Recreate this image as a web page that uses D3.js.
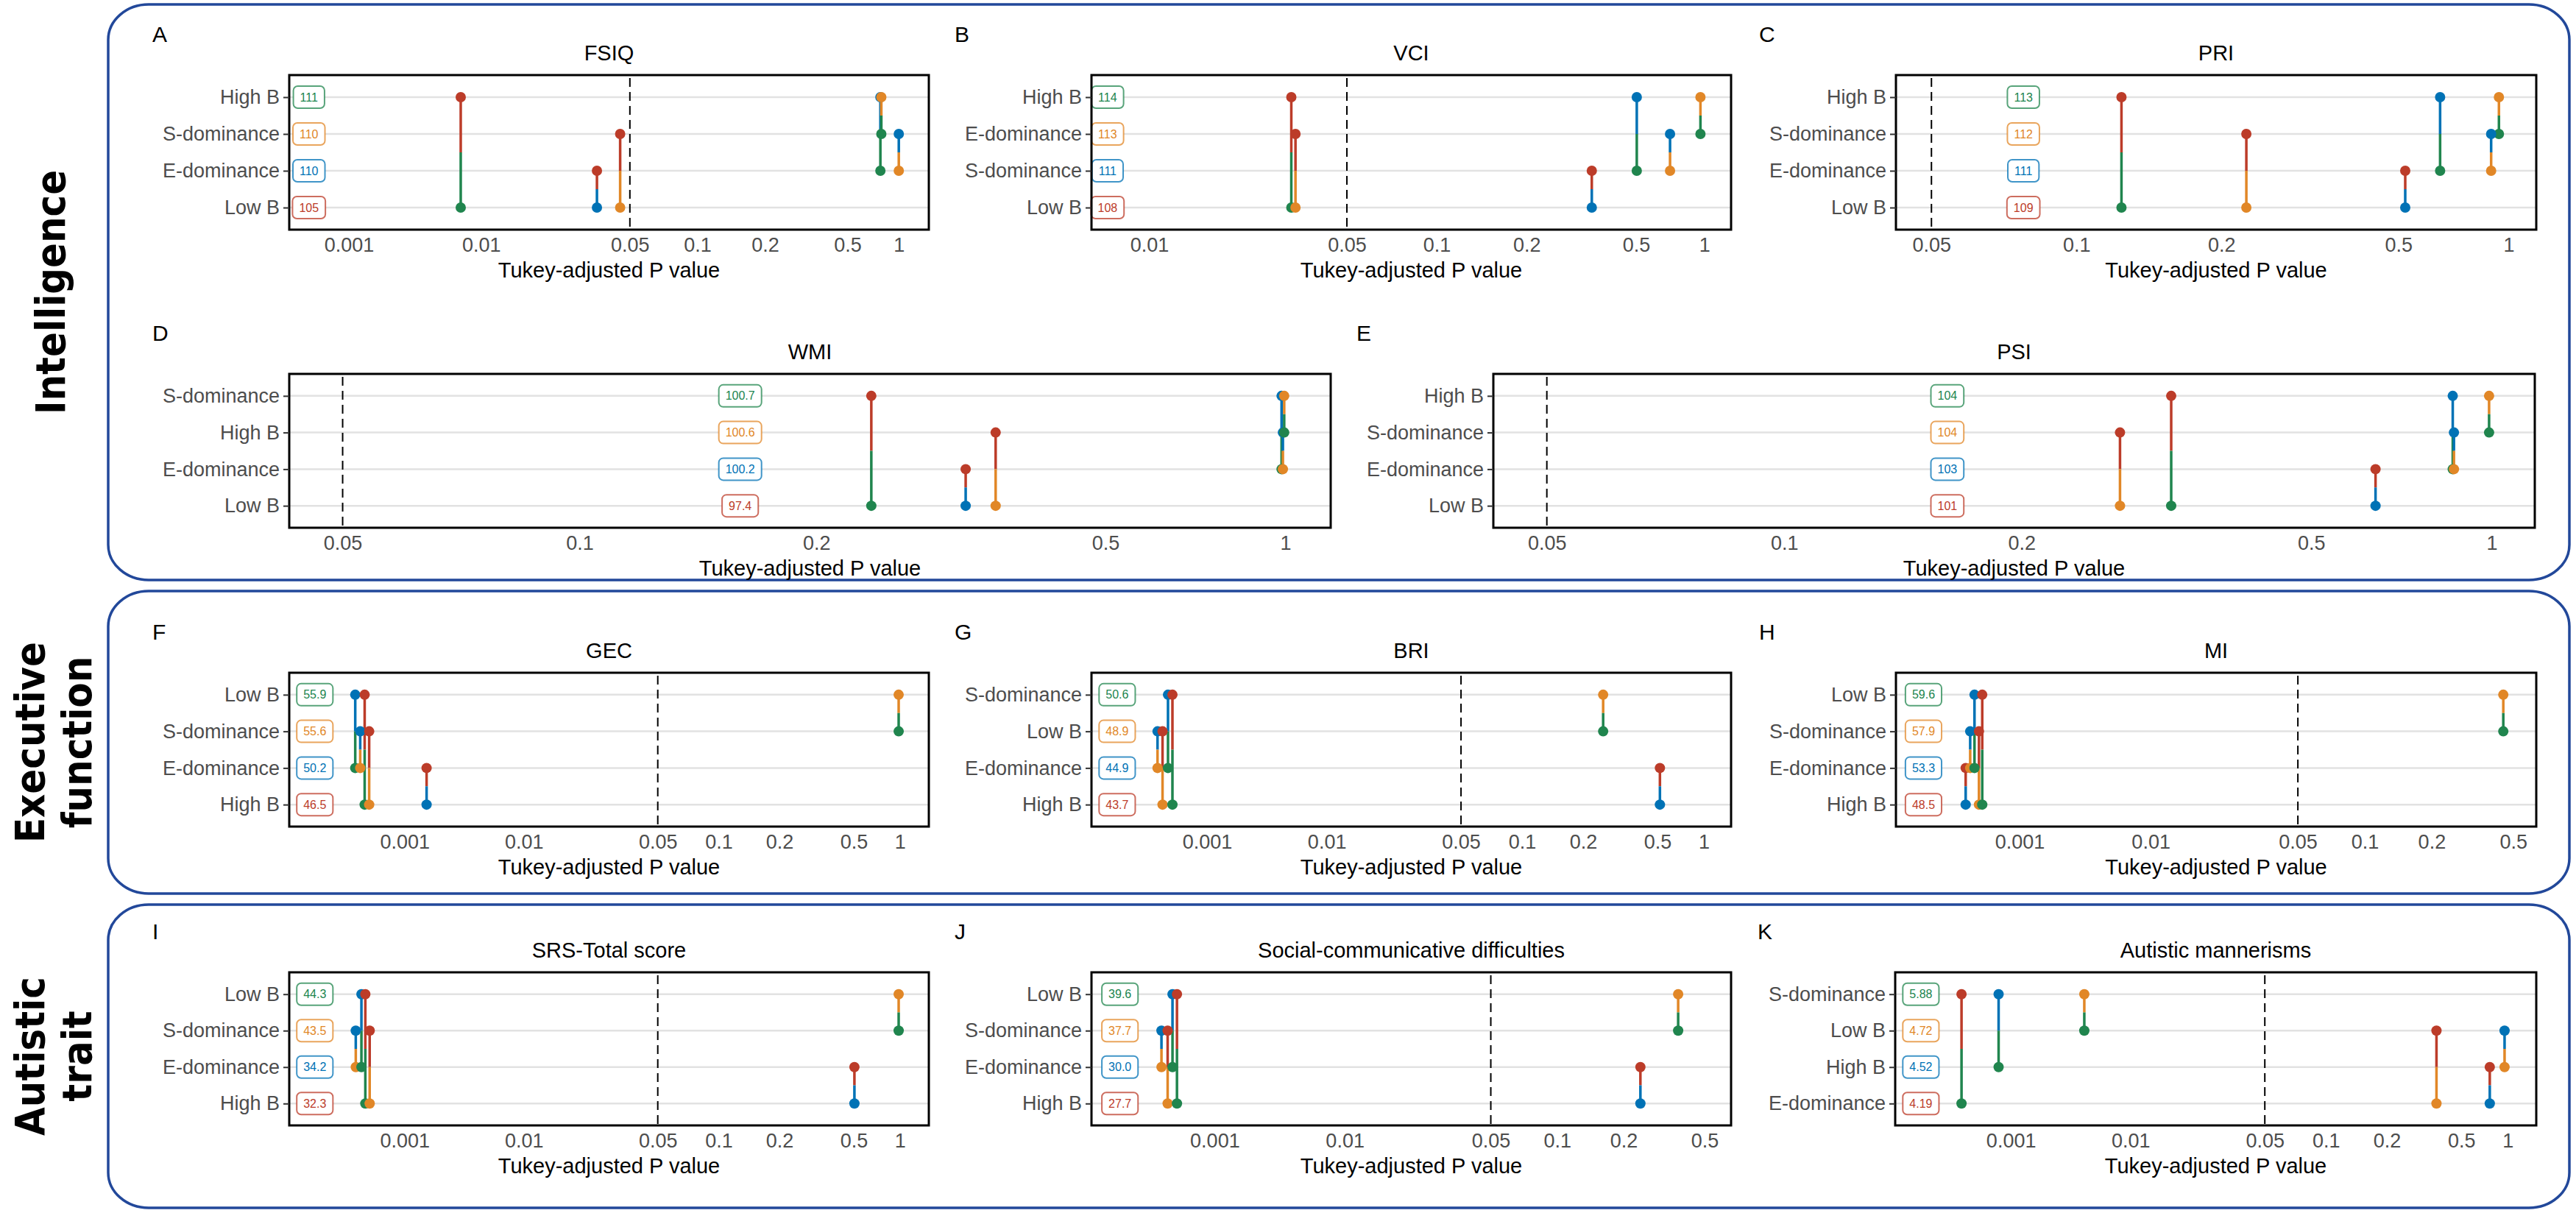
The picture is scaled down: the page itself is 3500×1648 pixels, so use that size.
<!DOCTYPE html>
<html>
<head>
<meta charset="utf-8">
<script src="https://cdn.jsdelivr.net/npm/d3@7"></script>
<style>
  body { margin: 0; background: #fff; }
  svg text { font-family: "Liberation Sans", Arial, sans-serif; }
</style>
</head>
<body>
<svg id="fig" width="3500" height="1648"></svg>
<script>
// ---- values ----
const panelLetters = ['A', 'B', 'C', 'D', 'E', 'F', 'G', 'H', 'I', 'J', 'K'];
const panelTitles = ['FSIQ', 'VCI', 'PRI', 'WMI', 'PSI', 'GEC', 'BRI', 'MI',
    'SRS-Total score', 'Social-communicative difficulties', 'Autistic mannerisms'];

// groups per panel, top row first (sorted by mean score)
const groupRows = [
    ['High B', 'S-dominance', 'E-dominance', 'Low B'],
    ['High B', 'E-dominance', 'S-dominance', 'Low B'],
    ['High B', 'S-dominance', 'E-dominance', 'Low B'],
    ['S-dominance', 'High B', 'E-dominance', 'Low B'],
    ['High B', 'S-dominance', 'E-dominance', 'Low B'],
    ['Low B', 'S-dominance', 'E-dominance', 'High B'],
    ['S-dominance', 'Low B', 'E-dominance', 'High B'],
    ['Low B', 'S-dominance', 'E-dominance', 'High B'],
    ['Low B', 'S-dominance', 'E-dominance', 'High B'],
    ['Low B', 'S-dominance', 'E-dominance', 'High B'],
    ['S-dominance', 'Low B', 'High B', 'E-dominance']
];

// group means shown in the boxes, same order as groupRows
const groupMeans = [
    ['111', '110', '110', '105'],
    ['114', '113', '111', '108'],
    ['113', '112', '111', '109'],
    ['100.7', '100.6', '100.2', '97.4'],
    ['104', '104', '103', '101'],
    ['55.9', '55.6', '50.2', '46.5'],
    ['50.6', '48.9', '44.9', '43.7'],
    ['59.6', '57.9', '53.3', '48.5'],
    ['44.3', '43.5', '34.2', '32.3'],
    ['39.6', '37.7', '30.0', '27.7'],
    ['5.88', '4.72', '4.52', '4.19']
];

// pairwise Tukey-adjusted p values: [group 1, group 2, p]
const pairP = [
    [['High B', 'Low B', 0.0070], ['S-dominance', 'Low B', 0.045], ['E-dominance', 'Low B', 0.035],
     ['High B', 'E-dominance', 0.78], ['High B', 'S-dominance', 0.79], ['S-dominance', 'E-dominance', 1.0]],
    [['High B', 'Low B', 0.0318], ['E-dominance', 'Low B', 0.0329], ['S-dominance', 'Low B', 0.345],
     ['High B', 'S-dominance', 0.503], ['E-dominance', 'S-dominance', 0.705], ['High B', 'E-dominance', 0.96]],
    [['High B', 'Low B', 0.124], ['S-dominance', 'Low B', 0.2275], ['E-dominance', 'Low B', 0.522],
     ['High B', 'E-dominance', 0.65], ['High B', 'S-dominance', 0.941], ['S-dominance', 'E-dominance', 0.896]],
    [['S-dominance', 'Low B', 0.238], ['E-dominance', 'Low B', 0.321], ['High B', 'Low B', 0.353],
     ['S-dominance', 'E-dominance', 0.985], ['High B', 'E-dominance', 0.99], ['S-dominance', 'High B', 0.995]],
    [['S-dominance', 'Low B', 0.273], ['High B', 'Low B', 0.321], ['E-dominance', 'Low B', 0.64],
     ['High B', 'E-dominance', 0.861], ['S-dominance', 'E-dominance', 0.865], ['High B', 'S-dominance', 0.99]],
    [['Low B', 'E-dominance', 0.000386], ['S-dominance', 'E-dominance', 0.000425], ['Low B', 'High B', 0.000463],
     ['S-dominance', 'High B', 0.000505], ['E-dominance', 'High B', 0.00153], ['Low B', 'S-dominance', 0.98]],
    [['Low B', 'E-dominance', 0.000385], ['Low B', 'High B', 0.000424], ['S-dominance', 'E-dominance', 0.000471],
     ['S-dominance', 'High B', 0.000513], ['S-dominance', 'Low B', 0.256], ['E-dominance', 'High B', 0.518]],
    [['E-dominance', 'High B', 0.000388], ['S-dominance', 'E-dominance', 0.00042], ['Low B', 'E-dominance', 0.000453],
     ['S-dominance', 'High B', 0.00049], ['Low B', 'High B', 0.000519], ['Low B', 'S-dominance', 0.447]],
    [['S-dominance', 'E-dominance', 0.00039], ['Low B', 'E-dominance', 0.000435], ['Low B', 'High B', 0.000469],
     ['S-dominance', 'High B', 0.00051], ['E-dominance', 'High B', 0.505], ['Low B', 'S-dominance', 0.98]],
    [['S-dominance', 'E-dominance', 0.00039], ['S-dominance', 'High B', 0.000435], ['Low B', 'E-dominance', 0.000474],
     ['Low B', 'High B', 0.000513], ['E-dominance', 'High B', 0.242], ['Low B', 'S-dominance', 0.371]],
    [['S-dominance', 'E-dominance', 0.000387], ['S-dominance', 'High B', 0.00079], ['S-dominance', 'Low B', 0.00411],
     ['Low B', 'E-dominance', 0.368], ['High B', 'E-dominance', 0.764], ['Low B', 'High B', 0.953]]
];

// x limits of each panel and where the mean boxes sit (p units)
const pRanges = [[0.000355, 1.5], [0.0047, 1.31], [0.0418, 1.19], [0.0424, 1.19], [0.0424, 1.18],
    [0.000108, 1.54], [0.000108, 1.5], [0.000114, 0.684], [0.000108, 1.54], [0.000113, 0.72], [0.000108, 1.53]];
const labelP = [0.0005, 0.0058, 0.0776, 0.16, 0.161, 0.000177, 0.000177, 0.000185, 0.000177, 0.000187, 0.000177];

const xTickValues = [0.001, 0.01, 0.05, 0.1, 0.2, 0.5, 1];
const xTickLabels = ['0.001', '0.01', '0.05', '0.1', '0.2', '0.5', '1'];
const pCutoff = 0.05;
const sectionNames = [['Intelligence'], ['Executive', 'function'], ['Autistic', 'trait']];

// ---- layout ----
const rankColors = ['#20854E', '#E18727', '#0072B5', '#BC3C29'];
// spacing of the break values along the axis (the axis is a warped log)
const axisWarp = d3.scaleLinear()
    .domain(xTickValues.map(Math.log10))
    .range([0, 1.96, 4.16, 5.16, 6.16, 7.38, 8.14]);

const panelBoxes = [
    [393, 102, 1262, 312], [1483, 102, 2352, 312], [2576, 102, 3446, 312],
    [393, 508, 1808, 717], [2029, 508, 3444, 717],
    [393, 914, 1262, 1123], [1483, 914, 2352, 1123], [2576, 914, 3446, 1123],
    [393, 1321, 1262, 1529], [1483, 1321, 2352, 1529], [2575, 1321, 3446, 1529]
];
const letterX = [207, 1297, 2390, 207, 1843, 207, 1297, 2390, 207, 1297, 2388];
const sectionBoxes = [[147, 6, 3491, 788], [147, 803, 3491, 1214], [147, 1229, 3491, 1641]];

const svg = d3.select('#fig');
svg.append('rect').attr('width', 3500).attr('height', 1648).attr('fill', '#fff');

// Section frames and rotated names
sectionBoxes.forEach(([bx0, by0, bx1, by1], k) => {
    svg.append('rect')
        .attr('x', bx0).attr('y', by0)
        .attr('width', bx1 - bx0).attr('height', by1 - by0)
        .attr('rx', 55).attr('ry', 48)
        .attr('fill', 'none')
        .attr('stroke', '#22489a')
        .attr('stroke-width', 3.5);

    const lines = sectionNames[k];
    const baselines = lines.length === 1 ? [88] : [60, 124];
    lines.forEach((txt, j) => {
        // glyphs are a little wider across than along the text in the source
        svg.append('text')
            .attr('transform', `translate(${baselines[j]},${(by0 + by1) / 2}) rotate(-90) scale(1,1.12)`)
            .attr('text-anchor', 'middle')
            .style('font-family', '"DejaVu Sans", sans-serif')
            .attr('font-weight', 'bold')
            .attr('font-size', 50)
            .attr('fill', '#000')
            .text(txt);
    });
});

function drawPanel(i) {
    const [x0, y0, x1, y1] = panelBoxes[i];
    const w = x1 - x0;
    const h = y1 - y0;
    const rows = groupRows[i];
    const [lo, hi] = pRanges[i];

    const g = svg.append('g').attr('transform', `translate(${x0},${y0})`);

    // x: log10(p) -> pixels through the warped break positions
    const toPx = d3.scaleLinear()
        .domain([axisWarp(Math.log10(lo)), axisWarp(Math.log10(hi))])
        .range([0, w]);
    const x = d3.scaleLinear()
        .domain(axisWarp.domain())
        .range(axisWarp.range().map(toPx));
    const px = p => x(Math.log10(p));

    const y = d3.scalePoint().domain(rows).range([0, h]).padding(0.6);
    const color = d3.scaleOrdinal().domain(rows).range(rankColors);

    // horizontal grid
    g.selectAll('line.grid')
        .data(rows)
        .join('line')
        .attr('class', 'grid')
        .attr('x1', 0).attr('x2', w)
        .attr('y1', d => y(d)).attr('y2', d => y(d))
        .attr('stroke', '#e2e2e2')
        .attr('stroke-width', 2.5);

    // p = 0.05 reference
    g.append('line')
        .attr('x1', px(pCutoff)).attr('x2', px(pCutoff))
        .attr('y1', 4).attr('y2', h)
        .attr('stroke', '#000')
        .attr('stroke-width', 2)
        .attr('stroke-dasharray', '12,7');

    // each comparison drawn as two halves, coloured by the partner group
    const halves = pairP[i].flatMap(([a, b, p]) => [
        { from: a, to: b, p },
        { from: b, to: a, p }
    ]);

    g.selectAll('line.seg')
        .data(halves)
        .join('line')
        .attr('class', 'seg')
        .attr('x1', d => px(d.p)).attr('x2', d => px(d.p))
        .attr('y1', d => y(d.from))
        .attr('y2', d => (y(d.from) + y(d.to)) / 2)
        .attr('stroke', d => color(d.to))
        .attr('stroke-width', 3.5);

    g.selectAll('circle.dot')
        .data(halves)
        .join('circle')
        .attr('class', 'dot')
        .attr('cx', d => px(d.p))
        .attr('cy', d => y(d.from))
        .attr('r', 7)
        .attr('fill', d => color(d.to));

    // mean boxes
    rows.forEach((grp, k) => {
        const lg = g.append('g').attr('transform', `translate(${px(labelP[i])},${y(grp)})`);
        const rect = lg.append('rect');
        const t = lg.append('text')
            .attr('text-anchor', 'middle')
            .attr('dy', '0.35em')
            .attr('font-size', 16)
            .attr('fill', color(grp))
            .text(groupMeans[i][k]);
        const tw = t.node().getComputedTextLength();
        rect.attr('x', -tw / 2 - 9).attr('y', -15)
            .attr('width', tw + 18).attr('height', 30)
            .attr('rx', 6)
            .attr('fill', '#fff')
            .attr('stroke', color(grp))
            .attr('stroke-opacity', 0.75)
            .attr('stroke-width', 2);
    });

    // panel border
    g.append('rect')
        .attr('width', w).attr('height', h)
        .attr('fill', 'none')
        .attr('stroke', '#000')
        .attr('stroke-width', 3);

    // x axis
    const ticks = xTickValues.filter(v => v >= lo && v <= hi);
    const xAxis = d3.axisBottom(x)
        .tickValues(ticks.map(Math.log10))
        .tickFormat(d => xTickLabels[xTickValues.findIndex(v => Math.abs(Math.log10(v) - d) < 1e-9)])
        .tickSize(0)
        .tickPadding(11);
    const gx = g.append('g')
        .attr('transform', `translate(0,${h})`)
        .call(xAxis);
    gx.select('.domain').remove();
    gx.attr('font-size', 27).attr('font-family', null);
    gx.selectAll('text').attr('fill', '#4d4d4d');

    // y axis
    const gy = g.append('g').call(d3.axisLeft(y).tickSize(8).tickPadding(5));
    gy.select('.domain').remove();
    gy.attr('font-size', 27).attr('font-family', null);
    gy.selectAll('text').attr('fill', '#4d4d4d');
    gy.selectAll('.tick line').attr('stroke', '#333').attr('stroke-width', 2);

    // titles
    g.append('text')
        .attr('x', w / 2).attr('y', -20)
        .attr('text-anchor', 'middle')
        .attr('font-size', 29)
        .attr('fill', '#000')
        .text(panelTitles[i]);

    g.append('text')
        .attr('x', w / 2).attr('y', h + 65)
        .attr('text-anchor', 'middle')
        .attr('font-size', 29)
        .attr('fill', '#000')
        .text('Tukey-adjusted P value');

    svg.append('text')
        .attr('x', letterX[i]).attr('y', y0 - 45)
        .attr('font-size', 30)
        .attr('fill', '#000')
        .text(panelLetters[i]);
}

panelLetters.forEach((_, i) => drawPanel(i));
</script>
</body>
</html>
